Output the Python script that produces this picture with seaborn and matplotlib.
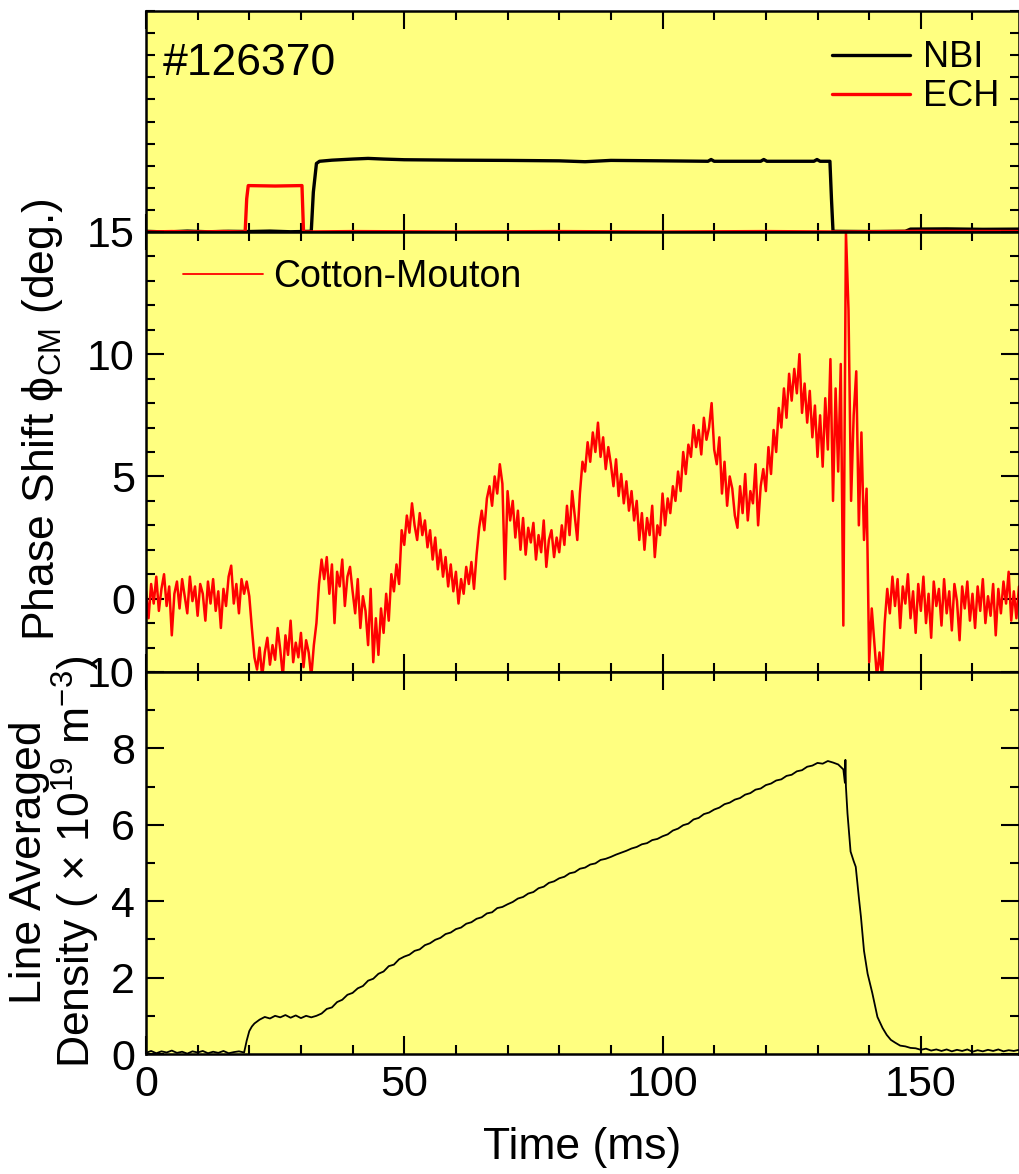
import numpy as np
import pandas as pd
import seaborn as sns
import matplotlib.pyplot as plt
from matplotlib.ticker import MultipleLocator


# shot number shown in the top panel
shot_label = "#126370"

# heating traces (top panel, arbitrary units)
nbi_t = [0, 4, 8, 12, 16, 20, 24, 28, 32.0, 32.4, 33.0, 33.6, 36, 40, 43, 46, 50,
         60, 70, 80, 85, 90, 100, 108.8, 109.4, 110.0, 119.0, 119.6, 120.2,
         129.3, 129.9, 130.5, 132.4, 132.7, 133.0, 140, 147, 148, 155, 162, 169]
nbi_level = [0.03, 0.0, 0.04, 0.01, 0.03, 0.02, 0.04, 0.01, 0.03, 1.8, 3.1, 3.2,
             3.25, 3.3, 3.33, 3.3, 3.27, 3.25, 3.24, 3.22, 3.18, 3.24, 3.22,
             3.2, 3.28, 3.2, 3.2, 3.28, 3.2, 3.2, 3.28, 3.2, 3.2, 1.5, 0.03,
             0.02, 0.03, 0.13, 0.14, 0.12, 0.13]

ech_t = [0, 5, 10, 15, 19.2, 19.5, 19.8, 25, 30.2, 30.5, 40, 60, 80, 100, 120, 135, 150, 169]
ech_level = [0, 0.02, 0, 0.02, 0, 1.5, 2.1, 2.08, 2.1, 0, 0.02, 0, 0.02, 0, 0.02, 0, 0.03, 0.02]

# Cotton-Mouton phase shift (deg.), one sample every 0.5 ms from t = 0
phase_step_ms = 0.5
phase_deg = [
    0.3, -0.8, 0.6, -0.2, 0.9, -0.5, 0.4, 1.0, -0.3, 0.5,
    -1.5, 0.2, 0.7, -0.4, 0.8, 0.1, -0.6, 0.9, -0.1, 0.5,
    -0.7, 0.6, 0.2, -0.9, 0.7, -0.2, 0.8, -0.5, 0.3, -1.2,
    0.4, -0.3, 0.9, 1.35, -0.2, 0.6, -0.6, 0.8, 0.2, 0.7,
    0.1, -1.2, -2.4, -2.9, -2.0, -3.2, -2.2, -1.6, -2.7, -1.9,
    -2.5, -1.2, -2.1, -3.2, -1.5, -2.3, -0.9, -2.6, -1.8, -2.4,
    -1.4, -2.8, -1.7, -2.2, -3.2, -1.9, -1.0, 0.6, 1.6, 0.8,
    1.7, 0.2, 1.4, -1.0, 1.1, 0.5, 1.6, -0.3, 0.9, 1.3,
    0.3, -0.6, 0.8, -1.2, 0.1, -0.5, -1.9, 0.4, -2.6, -0.8,
    -2.3, -0.4, -1.4, 0.2, -0.9, 1.0, 0.3, 1.4, 0.6, 2.8,
    2.2, 3.4, 2.7, 3.9, 3.0, 2.4, 3.5, 2.6, 3.2, 2.1,
    2.8, 1.6, 2.5, 1.2, 2.0, 0.9, 1.7, 0.5, 1.4, 0.3,
    1.1, -0.2, 0.8, 0.2, 1.3, 0.6, 1.5, 0.4, 1.8, 2.9,
    3.6, 2.8, 4.1, 4.6, 3.8, 5.0, 4.3, 5.5, 4.7, 0.8,
    4.4, 3.2, 4.0, 2.5, 3.6, 2.0, 3.3, 1.8, 2.9, 2.3,
    3.1, 1.6, 2.6, 1.9, 3.2, 1.3, 2.4, 2.8, 1.7, 2.5,
    1.9, 3.0, 2.2, 3.8, 2.6, 4.4, 3.4, 2.4, 4.3, 5.6,
    5.2, 6.4, 5.6, 6.8, 6.0, 7.2, 5.8, 6.6, 5.3, 6.2,
    5.5, 4.6, 5.7, 4.2, 5.1, 3.9, 4.8, 3.6, 4.4, 3.2,
    4.0, 2.4, 3.5, 2.0, 3.3, 2.6, 3.8, 1.7, 3.0, 2.6,
    4.3, 3.0, 4.1, 3.5, 4.6, 4.0, 5.2, 4.4, 6.0, 5.1,
    6.3, 5.8, 7.1, 6.2, 6.9, 5.9, 7.4, 6.5, 7.0, 8.0,
    6.1, 5.5, 6.6, 4.3, 5.6, 3.8, 5.0, 4.5, 3.4, 2.9,
    4.6, 3.5, 5.1, 3.2, 4.4, 3.9, 5.5, 3.0, 4.6, 5.3,
    4.4, 6.2, 5.1, 6.9, 6.0, 7.8, 7.0, 8.6, 7.4, 9.2,
    8.1, 9.4, 8.4, 10.0, 7.6, 8.8, 7.2, 8.5, 6.6, 7.9,
    5.8, 7.5, 5.4, 8.2, 6.1, 9.8, 4.0, 8.6, 5.2, 9.6,
    -1.1, 15.0, 11.8, 4.0, 7.5, 9.3, 3.0, 6.8, 2.4, 4.5,
    -2.6, -0.4, -1.8, -3.2, -2.2, -3.2, -1.0, 0.4, -0.6, 0.9,
    -0.3, 0.8, -1.2, 0.5, -0.2, 1.0, -0.8, 0.3, -1.4, 0.6,
    -0.5, 0.9, -1.0, 0.2, -1.6, 0.7, -0.3, 0.4, -1.1, 0.8,
    -0.6, 0.3, -1.3, 0.6, -0.1, -1.7, 0.5, -0.4, 0.7, -0.9,
    0.2, -1.2, 0.5, -0.5, 0.8, -1.0, 0.1, -0.7, 0.6, -1.5,
    0.4, -0.6, 0.7, -0.2, 1.1, -0.9, 0.3, -0.8, 0.5,
]

# line averaged density (1e19 m^-3)
density_t = (list(range(0, 20)) + [19.5, 20, 20.5] + list(range(21, 135))
             + [135.0, 135.3, 135.4, 135.5, 135.8, 136.4, 137.0, 137.4, 138.0,
                138.4, 139.0, 139.7, 140.6, 141.6, 142.6, 143.4, 144.2]
             + list(range(145, 170)))
density_n = [
    0.03, 0.08, 0.02, 0.07, 0.04, 0.09, 0.03, 0.06, 0.01, 0.07,
    0.04, 0.08, 0.02, 0.06, 0.03, 0.08, 0.02, 0.05, 0.07, 0.04,
    0.35, 0.60, 0.72,
    0.80, 0.90, 0.97, 0.93, 1.00, 0.96, 1.02, 0.95, 1.01, 0.94, 1.00, 0.96,
    1.00, 1.06, 1.18, 1.22, 1.36, 1.42, 1.55, 1.60, 1.72, 1.78,
    1.92, 1.97, 2.10, 2.16, 2.30, 2.34, 2.48, 2.55, 2.60, 2.70,
    2.74, 2.85, 2.90, 2.99, 3.04, 3.14, 3.18, 3.27, 3.31, 3.41,
    3.45, 3.54, 3.58, 3.68, 3.71, 3.82, 3.85, 3.92, 3.98, 4.07,
    4.11, 4.20, 4.24, 4.34, 4.38, 4.48, 4.52, 4.60, 4.64, 4.73,
    4.76, 4.85, 4.88, 4.96, 4.99, 5.08, 5.11, 5.16, 5.22, 5.27,
    5.32, 5.38, 5.42, 5.49, 5.52, 5.60, 5.63, 5.70, 5.75, 5.85,
    5.90, 5.99, 6.03, 6.14, 6.18, 6.28, 6.32, 6.40, 6.45, 6.54,
    6.58, 6.66, 6.70, 6.79, 6.83, 6.92, 6.95, 7.04, 7.08, 7.16,
    7.19, 7.28, 7.31, 7.40, 7.43, 7.52, 7.55, 7.62, 7.60, 7.67,
    7.63, 7.58,
    7.45, 7.10, 7.70, 7.00, 6.30, 5.30, 5.05, 4.90, 4.10, 3.60,
    2.70, 2.10, 1.60, 0.97, 0.68, 0.50, 0.37,
    0.30, 0.22, 0.20, 0.16, 0.15, 0.11, 0.14, 0.09, 0.12, 0.08,
    0.12, 0.07, 0.11, 0.08, 0.12, 0.06, 0.10, 0.07, 0.11, 0.08,
    0.12, 0.07, 0.10, 0.08, 0.11,
]

# esthetics
bg_color = "#FFFF80"
tick_size = 31
label_size = 32

sns.set_style("ticks")
plt.rcParams["font.family"] = ["Liberation Sans", "DejaVu Sans"]
plt.rcParams["mathtext.fontset"] = "custom"
plt.rcParams["mathtext.rm"] = "Liberation Sans"
plt.rcParams["mathtext.it"] = "Liberation Sans:italic"
plt.rcParams["mathtext.bf"] = "Liberation Sans:bold"
plt.rcParams["text.color"] = "black"
plt.rcParams["axes.labelcolor"] = "black"
plt.rcParams["xtick.color"] = "black"
plt.rcParams["ytick.color"] = "black"

heat = pd.concat([
    pd.DataFrame({"Time": nbi_t, "Power": nbi_level, "Source": "NBI"}),
    pd.DataFrame({"Time": ech_t, "Power": ech_level, "Source": "ECH"}),
])
phase = pd.DataFrame({"Time": np.arange(len(phase_deg)) * phase_step_ms, "Phase": phase_deg})
dens = pd.DataFrame({"Time": density_t, "Density": density_n})

fig = plt.figure(figsize=(10.2, 11.74), dpi=100)
left, width = 0.1431, 0.8559
ax_top = fig.add_axes([left, 0.8024, width, 0.1882])
ax_mid = fig.add_axes([left, 0.4276, width, 0.3748], sharex=ax_top)
ax_bot = fig.add_axes([left, 0.1022, width, 0.3254], sharex=ax_top)

for ax in (ax_top, ax_mid, ax_bot):
    ax.set_facecolor(bg_color)
    for spine in ax.spines.values():
        spine.set_linewidth(1.8)
        spine.set_color("black")
    ax.tick_params(which="both", direction="in", top=True, right=True,
                   width=1.5, colors="black", labelsize=tick_size, pad=8)
    ax.tick_params(which="major", length=13)
    ax.tick_params(which="minor", length=6.5)
    ax.xaxis.set_major_locator(MultipleLocator(50))
    ax.xaxis.set_minor_locator(MultipleLocator(10))

# top panel: heating
for src, col in [("NBI", "black"), ("ECH", "#FF0000")]:
    sns.lineplot(data=heat[heat["Source"] == src], x="Time", y="Power", ax=ax_top,
                 color=col, lw=2.4, label=src, estimator=None, sort=False)
ax_top.set_ylim(0, 10)
ax_top.yaxis.set_major_locator(MultipleLocator(1))
ax_top.tick_params(axis="y", which="major", length=6.5)
ax_top.tick_params(labelbottom=False, labelleft=False)
ax_top.set_xlabel("")
ax_top.set_ylabel("")
ax_top.text(0.0195, 0.71, shot_label, transform=ax_top.transAxes,
            fontsize=label_size, va="baseline", color="black")
ax_top.legend(loc="center right", bbox_to_anchor=(0.977, 0.70), frameon=False,
              fontsize=26, handlelength=2.15, handletextpad=0.35,
              labelspacing=0.12, borderpad=0, borderaxespad=0, labelcolor="black")

# middle panel: phase shift
sns.lineplot(data=phase, x="Time", y="Phase", ax=ax_mid, color="#FF0000", lw=1.8,
             label="Cotton-Mouton", estimator=None, sort=False)
ax_mid.set_ylim(-3, 15)
ax_mid.yaxis.set_major_locator(MultipleLocator(5))
ax_mid.yaxis.set_minor_locator(MultipleLocator(1))
ax_mid.tick_params(labelbottom=False)
ax_mid.set_xlabel("")
ax_mid.set_ylabel("Phase Shift $\\mathrm{\\phi}_\\mathrm{CM}$ (deg.)",
                  fontsize=label_size, va="center")
ax_mid.yaxis.set_label_coords(-0.119, 0.573)
leg = ax_mid.legend(loc="center left", bbox_to_anchor=(0.042, 0.898), frameon=False,
                    fontsize=27, handlelength=2.15, handletextpad=0.27,
                    borderpad=0, borderaxespad=0, labelcolor="black")
leg.get_lines()[0].set_linewidth(1.3)

# bottom panel: density
sns.lineplot(data=dens, x="Time", y="Density", ax=ax_bot, color="black", lw=1.3,
             estimator=None, sort=False)
ax_bot.set_ylim(0, 10)
ax_bot.yaxis.set_major_locator(MultipleLocator(2))
ax_bot.yaxis.set_minor_locator(MultipleLocator(1))
ax_bot.set_ylabel("Line Averaged\nDensity ( \u00d7 10$^{19}$ m$^{-3}$)",
                  fontsize=label_size, va="center", linespacing=1.0)
ax_bot.yaxis.set_label_coords(-0.104, 0.503)
ax_bot.set_xlabel("Time (ms)", fontsize=label_size, labelpad=16)

ax_bot.set_xlim(0, 169)

fig.savefig("out.png", dpi=100)
plt.close()
